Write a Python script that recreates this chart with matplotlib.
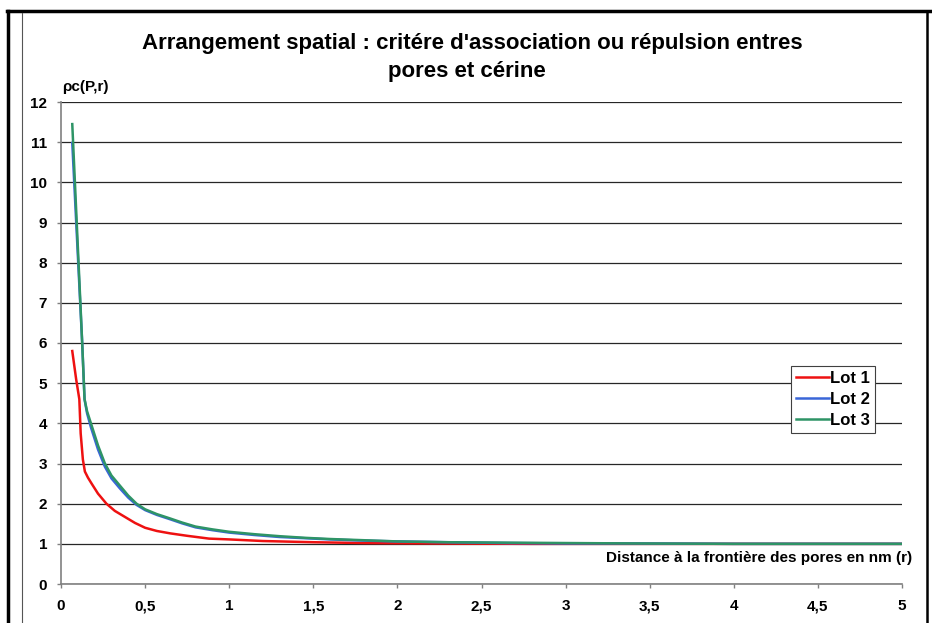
import matplotlib
matplotlib.use('Agg')
import matplotlib.pyplot as plt
from matplotlib.lines import Line2D

plt.rcParams['font.family'] = ['Liberation Sans', 'DejaVu Sans']
plt.rcParams['font.weight'] = 'bold'

# Lot 1
r_lot1 = [0.067, 0.09, 0.109, 0.117, 0.13, 0.142, 0.16, 0.182, 0.22, 0.27, 0.32, 0.38,
          0.44, 0.5, 0.57, 0.65, 0.75, 0.88, 1.0, 1.2, 1.5, 1.8, 2.2, 2.8, 3.5, 4.2, 5.0]
rho_lot1 = [5.8, 5.1, 4.6, 3.75, 3.1, 2.8, 2.65, 2.5, 2.25, 2.0, 1.82, 1.67,
            1.52, 1.4, 1.32, 1.26, 1.2, 1.13, 1.11, 1.07, 1.04, 1.02, 1.01, 1.0, 1.0, 1.0, 1.0]

# Lot 2
r_lot2 = [0.067, 0.126, 0.134, 0.14, 0.155, 0.178, 0.22, 0.261, 0.3, 0.35, 0.4, 0.449,
          0.5, 0.57, 0.65, 0.72, 0.8, 0.9, 1.0, 1.15, 1.3, 1.45, 1.6, 1.8, 2.0, 2.3,
          2.65, 3.0, 3.4, 4.0, 5.0]
rho_lot2 = [10.98, 6.0, 5.2, 4.6, 4.25, 3.9, 3.35, 2.92, 2.63, 2.38, 2.15, 1.97,
            1.84, 1.72, 1.61, 1.51, 1.41, 1.34, 1.28, 1.22, 1.17, 1.14, 1.11, 1.08, 1.06, 1.04,
            1.02, 1.01, 1.01, 1.0, 1.0]

# Lot 3
r_lot3 = [0.067, 0.126, 0.134, 0.14, 0.155, 0.178, 0.22, 0.261, 0.3, 0.35, 0.4, 0.449,
          0.5, 0.57, 0.65, 0.72, 0.8, 0.9, 1.0, 1.15, 1.3, 1.45, 1.6, 1.8, 2.0, 2.3,
          2.65, 3.0, 3.4, 4.0, 5.0]
rho_lot3 = [11.45, 6.0, 5.2, 4.6, 4.3, 4.0, 3.45, 3.0, 2.7, 2.45, 2.2, 2.0,
            1.86, 1.74, 1.63, 1.53, 1.43, 1.36, 1.3, 1.24, 1.19, 1.15, 1.12, 1.09, 1.06, 1.04,
            1.03, 1.02, 1.01, 1.0, 1.0]

x_ticks = [0, 0.5, 1, 1.5, 2, 2.5, 3, 3.5, 4, 4.5, 5]
x_ticklabels = ['0', '0,5', '1', '1,5', '2', '2,5', '3', '3,5', '4', '4,5', '5']
y_ticks = list(range(0, 13))

W, H = 932, 623
fig = plt.figure(figsize=(W / 100, H / 100), dpi=100)
ax = fig.add_axes([61 / W, 1 - 584 / H, (902 - 61) / W, (584 - 102) / H])

ax.plot(r_lot1, rho_lot1, color='#ee1111', lw=1.8, label='Lot 1')
ax.plot(r_lot2, rho_lot2, color='#3a66d8', lw=1.8, label='Lot 2')
ax.plot(r_lot3, rho_lot3, color='#2e9466', lw=1.8, label='Lot 3')

ax.set_xlim(0, 5)
ax.set_ylim(0, 12)
ax.set_xticks(x_ticks)
ax.set_xticklabels(x_ticklabels)
ax.set_yticks(y_ticks)
ax.tick_params(axis='both', labelsize=11, length=3, color='#808080', width=1)
ax.tick_params(axis='x', pad=8)
ax.tick_params(axis='y', pad=7)
for lab in ax.get_xticklabels() + ax.get_yticklabels():
    lab.set_fontweight('bold')

ax.grid(axis='y', color='#262626', lw=0.9)
ax.set_axisbelow(True)
for s in ['top', 'right']:
    ax.spines[s].set_visible(False)
for s in ['left', 'bottom']:
    ax.spines[s].set_color('#808080')
    ax.spines[s].set_linewidth(1.2)

leg = ax.legend(loc='upper left', bbox_to_anchor=(791 / W, 1 - 366 / H),
                bbox_transform=fig.transFigure, fancybox=False, framealpha=1,
                edgecolor='#404040', prop={'weight': 'bold', 'size': 12},
                handlelength=2.0, handletextpad=0.05, labelspacing=0.35,
                borderpad=0.3, borderaxespad=0)
leg.get_frame().set_linewidth(0.8)

fig.text(472 / W, 1 - 44 / H, "Arrangement spatial : critére d'association ou répulsion entres",
         ha='center', va='center', fontsize=16, fontweight='bold')
fig.text(467 / W, 1 - 72 / H, "pores et cérine",
         ha='center', va='center', fontsize=16, fontweight='bold')
fig.text(62 / W, 1 - 87 / H, "ρc(P,r)", ha='left', va='center', fontsize=11, fontweight='bold')
fig.text(912 / W, 1 - 562 / H, "Distance à la frontière des pores en nm (r)",
         ha='right', va='baseline', fontsize=11, fontweight='bold')

# cadre
fig.add_artist(Line2D([7 / W, 1], [1 - 11 / H, 1 - 11 / H], color='black', lw=2.5,
                      transform=fig.transFigure))
fig.add_artist(Line2D([8 / W, 8 / W], [0, 1 - 11 / H], color='black', lw=2.5,
                      transform=fig.transFigure))
fig.add_artist(Line2D([927 / W, 927 / W], [0, 1 - 11 / H], color='black', lw=1.8,
                      transform=fig.transFigure))
fig.add_artist(Line2D([22 / W, 22 / W], [0, 1 - 13 / H], color='#555555', lw=0.8,
                      transform=fig.transFigure))

fig.savefig('out.png', dpi=100)
